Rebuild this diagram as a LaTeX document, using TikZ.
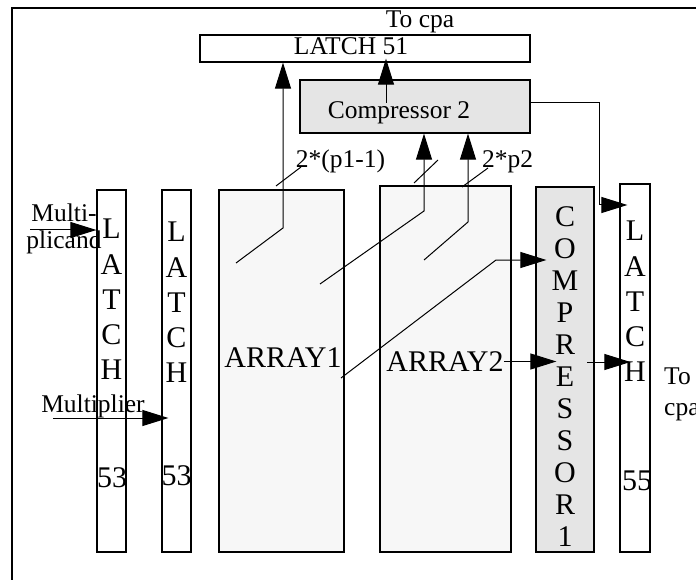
\documentclass[tikz,border=0pt]{standalone}
\usepackage{fontspec}
\setmainfont{Liberation Serif}
\usetikzlibrary{arrows.meta, positioning}
\definecolor{compfill}{gray}{0.9}
\definecolor{arrayfill}{gray}{0.97}
\tikzstyle{latchbox} = [
    rectangle,
    inner sep=0pt,
    line width=1.2pt,
    draw=black
]
\tikzstyle{arraybox} = [
    rectangle,
    inner sep=0pt,
    line width=1.2pt,
    fill=arrayfill,
    draw=black
]
\tikzstyle{compbox} = [
    rectangle,
    inner sep=0pt,
    line width=1.2pt,
    fill=compfill,
    draw=black
]
\tikzstyle{tall} = [
    inner sep=0pt,
    align=center,
    font=\fontsize{30}{35.25}\selectfont
]
\tikzstyle{small} = [
    inner sep=0pt,
    font=\fontsize{25.5}{27}\selectfont
]
\tikzstyle{wire} = [line width=1pt]
\tikzstyle{arrow} = [line width=1pt, -{Triangle[length=26pt,width=16pt]}]

\begin{document}
\begin{tikzpicture}[x=1pt, y=-1pt]

\useasboundingbox (0,0) rectangle (696,580);
\draw [line width=1.5pt] (12,8) rectangle (720,600);

\node (latch51) [latchbox, minimum width=330pt, minimum height=27pt] at (365,48.5) {};
\node (latch51txt) [small, anchor=base] at (351,55) {LATCH 51};
\node (tocpa) [small, anchor=base] at (420,28) {To cpa};

\node (comp2) [compbox, minimum width=230pt, minimum height=53pt] at (415,106.5) {};
\node (comp2txt) [small, anchor=base] at (399,119) {Compressor 2};

\node (latchA) [latchbox, minimum width=29pt, minimum height=362pt] at (111.5,371) {};
\node (latchAtxt) [tall] at (111.5,299.5) {L\\A\\T\\C\\H};
\node (latchAnum) [tall] at (112,478) {53};

\node (latchB) [latchbox, minimum width=29pt, minimum height=362pt] at (176.5,371) {};
\node (latchBtxt) [tall] at (176.5,302.5) {L\\A\\T\\C\\H};
\node (latchBnum) [tall] at (176.5,476) {53};

\node (array1) [arraybox, minimum width=125pt, minimum height=362pt] at (281.5,371) {};
\node (array1txt) [tall] at (283,358) {ARRAY1};

\node (array2) [arraybox, minimum width=131pt, minimum height=366pt] at (445.5,369) {};
\node (array2txt) [tall] at (445,361.5) {ARRAY2};

\node (comp1) [compbox, minimum width=58pt, minimum height=365pt] at (565,369.5) {};
\node (comp1txt) [tall, font=\fontsize{30}{32}\selectfont] at (565,377)
{C\\O\\M\\P\\R\\E\\S\\S\\O\\R\\1};

\node (latch55) [latchbox, minimum width=30pt, minimum height=368pt] at (635,368) {};
\node (latch55txt) [tall] at (635,301.5) {L\\A\\T\\C\\H};
\node (latch55num) [tall] at (637,481) {55};

\node (mcandtxt) [small, align=center] at (64,229) {Multi-\\plicand};
\node (mpliertxt) [small, anchor=base] at (93,412) {Multiplier};
\node (tocpa2) [small, align=left, anchor=west, font=\fontsize{25.5}{31}\selectfont]
at (664,394) {To\\cpa};

\node (p1lbl) [small, anchor=base] at (340.5,168) {2*(p1-1)};
\node (p2lbl) [small, anchor=base] at (507.5,168) {2*p2};

\coordinate (mcand) at (30,230);
\coordinate (mplier) at (53,418);
\coordinate (a1out) at (236,263);
\coordinate (a1bend) at (283,228);
\coordinate (a1mid) at (320,284);
\coordinate (a1midbend) at (424,211);
\coordinate (a2out) at (424,260);
\coordinate (a2bend) at (468,222);
\coordinate (a1low) at (341,378);
\coordinate (a1lowbend) at (496,260);
\coordinate (c1out) at (587,362);
\coordinate (c2turn) at (599,205);
\coordinate (c2up) at (386,103);

\draw [arrow] (mcand) -- (mcand -| latchA.west);
\draw [arrow] (mplier) -- ([xshift=7pt]mplier -| latchB.west);

\draw [arrow] (a1out) -- (a1bend) -- (a1bend |- latch51.south);
\draw [wire] (276,186) -- (301,167);

\draw [arrow] (a1mid) -- (a1midbend) -- (a1midbend |- comp2.south);
\draw [wire] (414,183) -- (438,160);

\draw [arrow] (a2out) -- (a2bend) -- (a2bend |- comp2.south);
\draw [wire] (462,187) -- (488,168);

\draw [arrow] (a1low) -- (a1lowbend) -- ([xshift=11pt]a1lowbend -| comp1.west);
\draw [arrow] (array2txt.east) -- ([xshift=21pt]array2txt.east -| comp1.west);
\draw [arrow] (c1out) -- ([xshift=11pt]c1out -| latch55.west);

\draw [arrow] ([yshift=3.5pt]comp2.east) -| (c2turn) -- ([xshift=8pt]c2turn -| latch55.west);
\draw [arrow] (c2up) -- ([yshift=4pt]c2up |- latch51.south);

\end{tikzpicture}
\end{document}
